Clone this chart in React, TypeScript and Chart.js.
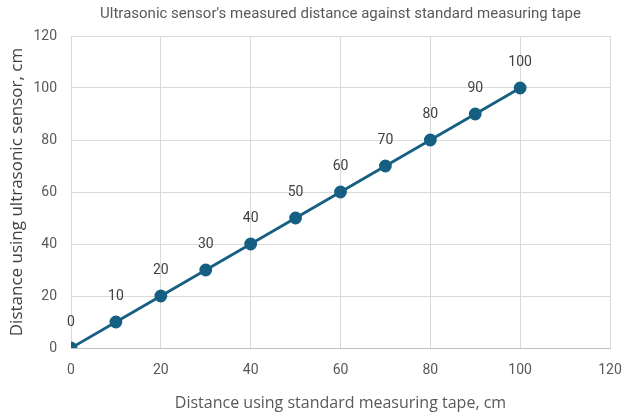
import React, { useEffect, useRef } from "react";
import { Chart, registerables } from "chart.js";

Chart.register(...registerables);

const tapeDistance = [0, 10, 20, 30, 40, 50, 60, 70, 80, 90, 100];
const sensorDistance = [0, 10, 20, 30, 40, 50, 60, 70, 80, 90, 100];
const pointLabels = ["0", "10", "20", "30", "40", "50", "60", "70", "80", "90", "100"];

const titleText = "Ultrasonic sensor's measured distance against standard measuring tape";
const xTitle = "Distance using standard measuring tape, cm";
const yTitle = "Distance using ultrasonic sensor, cm";

const FONT = "Roboto, 'Open Sans', sans-serif";
const TFONT = "'Open Sans', Roboto, sans-serif";
const BLUE = "#156082";

const labelPlugin = {
  id: "pointLabels",
  afterDatasetsDraw(chart: any) {
    const ctx = chart.ctx;
    const meta = chart.getDatasetMeta(0);
    const area = chart.chartArea;
    ctx.save();
    ctx.font = `14px ${FONT}`;
    ctx.fillStyle = "#404040";
    ctx.textAlign = "center";
    ctx.textBaseline = "middle";
    meta.data.forEach((el: any, i: number) => {
      ctx.fillText(pointLabels[i], el.x, el.y - 26);
    });
    ctx.font = `15px ${FONT}`;
    ctx.fillStyle = "#595959";
    ctx.fillText(titleText, (area.left + area.right) / 2, 14);
    ctx.restore();
  },
};

export default function App() {
  const ref = useRef<HTMLCanvasElement | null>(null);
  useEffect(() => {
    document.body.style.margin = "0";
    const data = tapeDistance.map((x, i) => ({ x, y: sensorDistance[i] }));
    const chart = new Chart(ref.current as HTMLCanvasElement, {
      type: "scatter",
      data: {
        datasets: [
          {
            data,
            showLine: true,
            borderColor: BLUE,
            backgroundColor: BLUE,
            borderWidth: 2.8,
            pointRadius: 5,
            pointHoverRadius: 5,
          },
        ],
      },
      options: {
        animation: false,
        responsive: false,
        layout: { padding: { left: 7, right: 13, top: 36, bottom: 3 } },
        plugins: {
          legend: { display: false },
          tooltip: { enabled: false },
          title: { display: false },
        },
        scales: {
          x: {
            type: "linear",
            min: 0,
            max: 120,
            ticks: { stepSize: 20, color: "#595959", font: { family: FONT, size: 14 }, padding: 14 },
            grid: { color: "#d9d9d9", drawTicks: false },
            border: { color: "#bfbfbf" },
            title: { display: true, text: xTitle, color: "#595959", font: { family: TFONT, size: 16 }, padding: 0 },
            afterFit(scale: any) {
              scale.height = 65;
              scale.paddingLeft = 0;
              scale.paddingRight = 0;
            },
          },
          y: {
            type: "linear",
            min: 0,
            max: 120,
            ticks: { stepSize: 20, color: "#595959", font: { family: FONT, size: 14 }, padding: 14 },
            grid: { color: "#d9d9d9", drawTicks: false },
            border: { display: false },
            title: { display: true, text: yTitle, color: "#404040", font: { family: TFONT, size: 17, weight: 500 }, padding: 0 },
            afterFit(scale: any) {
              scale.width = 64;
              scale.paddingTop = 0;
              scale.paddingBottom = 0;
            },
          },
        },
      },
      plugins: [labelPlugin],
    });
    return () => chart.destroy();
  }, []);
  return <canvas ref={ref} width={623} height={416} style={{ display: "block" }} />;
}
